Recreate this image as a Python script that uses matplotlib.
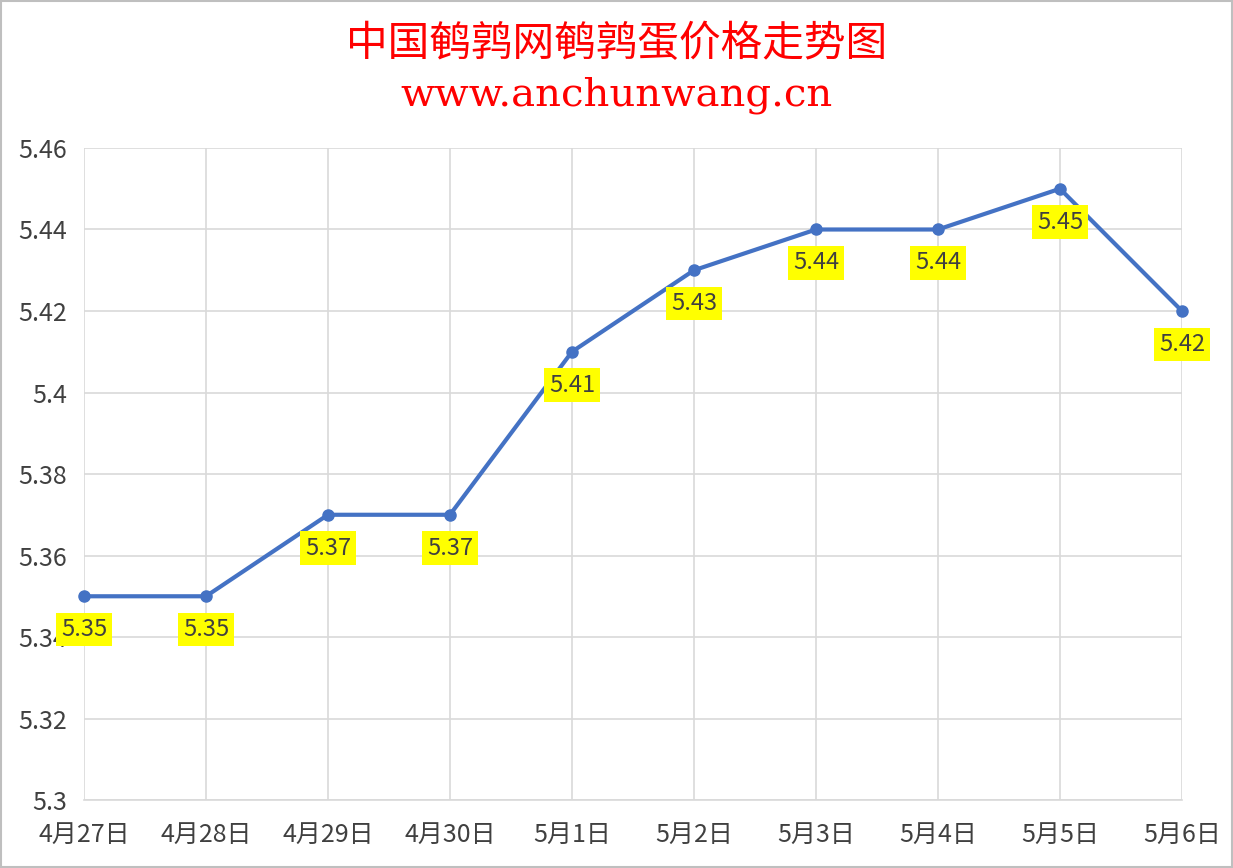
import matplotlib
matplotlib.use("Agg")
import matplotlib.pyplot as plt
from matplotlib.patches import Rectangle

plt.rcParams['font.family'] = ['Noto Sans CJK SC', 'DejaVu Sans']

# data
dates = ["4月27日", "4月28日", "4月29日", "4月30日", "5月1日",
         "5月2日", "5月3日", "5月4日", "5月5日", "5月6日"]
prices = [5.35, 5.35, 5.37, 5.37, 5.41, 5.43, 5.44, 5.44, 5.45, 5.42]
yticks = [5.3, 5.32, 5.34, 5.36, 5.38, 5.4, 5.42, 5.44, 5.46]
ytick_labels = ["5.3", "5.32", "5.34", "5.36", "5.38", "5.4", "5.42", "5.44", "5.46"]

fig = plt.figure(figsize=(12.33, 8.68), dpi=100)
ax = fig.add_axes([0.0681, 0.0783, 0.8905, 0.7512])

x = list(range(len(dates)))
ax.plot(x, prices, color='#4472C4', lw=3, marker='o', ms=8, zorder=3,
        clip_on=False)

for xi, v in zip(x, prices):
    ax.annotate(f"{v:.2f}", (xi, v), xytext=(0, -24), textcoords='offset points',
                ha='center', va='center', fontsize=17, color='#404040',
                bbox=dict(boxstyle='square,pad=0.22', fc='#FFFF00', ec='none'),
                zorder=4)

ax.set_xlim(0, len(dates) - 1)
ax.set_ylim(5.3, 5.46)
ax.set_xticks(x)
ax.set_xticklabels(dates, fontsize=18, color='#404040')
ax.set_yticks(yticks)
ax.set_yticklabels(ytick_labels, fontsize=18, color='#404040')
ax.tick_params(length=0)
ax.tick_params(axis='x', pad=16)
ax.tick_params(axis='y', pad=12)
ax.grid(True, color='#D9D9D9', lw=1.2)
ax.set_axisbelow(True)
for s in ['top', 'right', 'left']:
    ax.spines[s].set_visible(False)
ax.spines['bottom'].set_color('#D9D9D9')
ax.spines['bottom'].set_linewidth(1.2)

fig.text(0.5, 0.949, "中国鹌鹑网鹌鹑蛋价格走势图", ha='center', va='center',
         fontsize=30, color='#FF0000')
fig.text(0.5, 0.890, "www.anchunwang.cn", ha='center', va='center',
         fontsize=29, color='#FF0000', family='DejaVu Serif')

# outer border
fig.patches.append(Rectangle((0.001, 0.001), 0.998, 0.998, transform=fig.transFigure,
                             fill=False, ec='#BFBFBF', lw=1.5))

fig.savefig("out.png", dpi=100)
